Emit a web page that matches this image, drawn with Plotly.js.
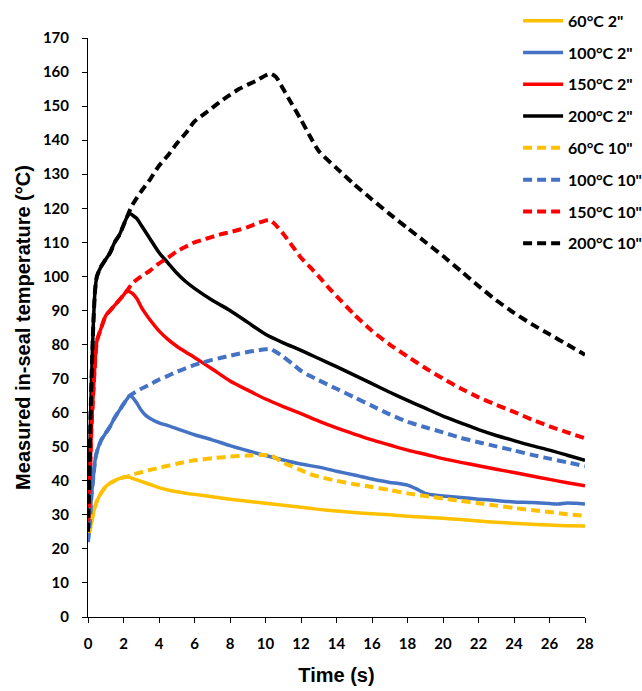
<!DOCTYPE html>
<html>
<head>
<meta charset="utf-8">
<script src="https://cdn.plot.ly/plotly-3.0.1.min.js"></script>
<style>
  html, body { margin: 0; padding: 0; background: #fff; }
  #chart { width: 642px; height: 691px; }
</style>
</head>
<body>
<div id="chart"></div>
<script>
// ---- Data ----
const seriesNames = ['60°C 2"', '100°C 2"', '150°C 2"', '200°C 2"', '60°C 10"', '100°C 10"', '150°C 10"', '200°C 10"'];

const t_60_2 = [0,0.1,0.2,0.3,0.4,0.5,0.75,1,1.25,1.5,1.75,2,2.2,2.5,3,3.5,4,4.5,5,6,7,8,9,10,11,12,13,14,15,16,17,18,19,20,21,22,23,24,25,26,27,28];
const v_60_2 = [24,25.5,28,30.5,32.5,34,36.5,38.3,39.3,40,40.6,41,41.2,40.7,39.8,38.9,38,37.3,36.8,36,35.3,34.6,34,33.4,32.8,32.2,31.6,31.1,30.7,30.3,30,29.6,29.3,29,28.6,28.2,27.8,27.5,27.2,27,26.8,26.7];

const t_100_2 = [0,0.05,0.1,0.15,0.2,0.3,0.4,0.5,0.75,1,1.25,1.5,1.75,2,2.2,2.35,2.5,2.75,3,3.25,3.5,4,4.5,5,6,7,8,9,10,11,12,13,14,15,16,17,17.5,18,18.5,19,19.5,20,21,22,23,24,25,26,26.5,27,27.5,28];
const v_100_2 = [22,25,28,32,36,41,46,48.5,52,54,56,58.5,60.5,62.5,64,65,64.5,62.8,60.7,59.2,58.3,57,56.2,55.3,53.5,52,50.3,48.8,47.4,46.1,44.9,44,42.8,41.7,40.5,39.5,39.2,38.7,37.6,36.3,35.8,35.5,35.1,34.6,34.2,33.8,33.6,33.3,33.2,33.5,33.4,33.2];

const t_150_2 = [0,0.05,0.1,0.15,0.2,0.3,0.4,0.5,0.75,1,1.25,1.5,1.75,2,2.2,2.35,2.5,2.75,3,3.25,3.5,4,4.5,5,5.5,6,7,8,9,10,11,12,13,14,15,16,17,18,19,20,21,22,23,24,25,26,27,28];
const v_150_2 = [28,32,40,48,56,66,75,81,85,88.5,90,91.5,93,94.5,95.8,95.5,95,93.5,91,89,87.2,84,81.5,79.5,77.8,76.2,72.8,69.3,66.6,64,61.8,59.7,57.5,55.5,53.7,52,50.5,49,47.8,46.5,45.4,44.4,43.4,42.4,41.4,40.4,39.4,38.5];

const t_200_2 = [0,0.05,0.1,0.15,0.2,0.3,0.4,0.5,0.75,1,1.25,1.5,1.75,2,2.2,2.35,2.5,2.75,3,3.5,4,4.5,5,5.5,6,7,8,9,10,11,12,13,14,15,16,17,18,19,20,21,22,23,24,25,26,27,28];
const v_200_2 = [25,35,48,60,70,86,96,100,103,105,107,110,112,115,117.5,118.5,118,117,115,111,107,104,101,98.5,96.5,93,90,86.5,83,80.5,78.3,75.9,73.5,71,68.5,66,63.6,61.3,59,57,55,53.3,51.8,50.3,49,47.5,46];

const t_60_10 = [0,0.1,0.2,0.3,0.4,0.5,0.75,1,1.25,1.5,1.75,2,2.2,2.5,3,3.5,4,4.5,5,6,7,8,9,10,10.3,10.6,11,11.5,12,12.5,13,14,15,16,17,18,19,20,21,22,23,24,25,26,27,28];
const v_60_10 = [24,25.5,28,30.5,32.5,34,36.5,38.3,39.3,40,40.6,41,41.2,41.8,42.5,43.2,43.8,44.4,45,46,46.6,47.1,47.4,47.6,47.5,46.6,45.3,44.2,43.1,42,41.2,40,39,38.2,37.3,36.3,35.5,34.8,34.1,33.4,32.7,32,31.4,30.8,30.2,29.7];

const t_100_10 = [0,0.05,0.1,0.15,0.2,0.3,0.4,0.5,0.75,1,1.25,1.5,1.75,2,2.2,2.35,2.5,3,3.5,4,4.5,5,5.5,6,6.5,7,7.5,8,8.5,9,9.5,10,10.3,10.6,11,11.5,12,12.5,13,14,15,16,17,18,19,20,21,22,23,24,25,26,27,28];
const v_100_10 = [22,25,28,32,36,41,46,48.5,52,54,56,58.5,60.5,62.5,64,65,65.5,67,68.3,69.7,70.8,72,73,74,74.8,75.5,76.1,76.7,77.3,77.8,78.2,78.6,78.7,77.8,76.4,74.4,72.3,70.8,69.5,67,64.5,62,59.5,57.3,55.7,54.2,52.6,51.3,50.1,48.9,47.6,46.5,45.4,44.3];

const t_150_10 = [0,0.05,0.1,0.15,0.2,0.3,0.4,0.5,0.75,1,1.25,1.5,1.75,2,2.2,2.5,3,3.5,4,4.5,5,5.5,6,6.5,7,7.5,8,8.5,9,9.5,10,10.2,10.5,11,11.5,12,12.5,13,13.5,14,15,16,17,18,19,20,21,22,23,24,25,26,27,28];
const v_150_10 = [28,32,40,48,56,66,75,81,85,88.5,90,91.5,93,94.5,95.8,98,100,101.7,103.8,105.5,107.3,108.7,110,110.8,111.6,112.4,113,113.7,114.5,115.5,116.4,116.6,115.5,112.5,109,105.5,102.8,100,97,94.2,88.8,84,80,76.5,73.1,70,67.1,64.5,62.3,60.2,58,56,54.2,52.5];

const t_200_10 = [0,0.05,0.1,0.15,0.2,0.3,0.4,0.5,0.75,1,1.25,1.5,1.75,2,2.2,2.5,3,3.5,4,4.5,5,5.5,6,6.5,7,7.5,8,8.5,9,9.5,10,10.3,10.6,11,11.5,12,12.5,13,14,15,16,17,18,19,20,21,22,23,24,25,26,27,28];
const v_200_10 = [25,35,48,60,70,86,96,100,103,105,107,110,112,115,117.5,121,125,128.5,132.5,135.5,139,142,145.5,147.5,149.5,151.5,153.3,155,156.3,157.5,159,159.5,158.5,155,150.5,146,141.2,136.8,131.8,127,122.6,118.3,114.2,110.1,106,101.6,97.2,93,89.3,86,83,80,77];

const xTicks = [0,2,4,6,8,10,12,14,16,18,20,22,24,26,28];
const yTicks = [0,10,20,30,40,50,60,70,80,90,100,110,120,130,140,150,160,170];

// ---- Styling ----
const colors = ['#FFC000', '#4472C4', '#FF0000', '#000000'];
const xs = [t_60_2, t_100_2, t_150_2, t_200_2, t_60_10, t_100_10, t_150_10, t_200_10];
const ys = [v_60_2, v_100_2, v_150_2, v_200_2, v_60_10, v_100_10, v_150_10, v_200_10];

const traces = seriesNames.map((name, i) => ({
  type: 'scatter',
  mode: 'lines',
  name: name,
  legendgroup: 'g' + i,
  x: xs[i],
  y: ys[i],
  line: {
    color: colors[i % 4],
    width: i < 4 ? 3.5 : 4,
    dash: i < 4 ? 'solid' : '9px,5px',
    shape: 'spline',
    smoothing: 0.6
  },
  hoverinfo: 'x+y+name'
}));

const tickFont = { family: 'Lato, "Open Sans", sans-serif', size: 15, color: '#000', weight: 'bold' };
const titleFont = { family: '"Liberation Sans", Arial, sans-serif', size: 20, color: '#000', weight: 'bold' };

const layout = {
  width: 642,
  height: 691,
  margin: { l: 88, r: 57, t: 38, b: 74, autoexpand: false },
  paper_bgcolor: '#fff',
  plot_bgcolor: '#fff',
  showlegend: true,
  legend: {
    xref: 'container', yref: 'container',
    x: 0.807, xanchor: 'left',
    y: 0.9946, yanchor: 'top',
    traceorder: 'grouped',
    tracegroupgap: 8,
    bgcolor: 'rgba(0,0,0,0)',
    itemwidth: 40,
    font: { family: 'Lato, "Open Sans", sans-serif', size: 16, color: '#000', weight: 'bold' }
  },
  xaxis: {
    range: [0, 28],
    tickvals: xTicks,
    ticktext: xTicks.map(String),
    showgrid: false,
    zeroline: false,
    showline: true,
    linecolor: '#000',
    linewidth: 1,
    ticks: 'outside',
    ticklen: 5,
    tickcolor: '#000',
    tickfont: tickFont,
    ticklabelstandoff: 8,
    title: { text: 'Time (s)', font: titleFont, standoff: 16 }
  },
  yaxis: {
    range: [0, 170],
    tickvals: yTicks,
    ticktext: yTicks.map(String),
    showgrid: false,
    zeroline: false,
    showline: true,
    linecolor: '#000',
    linewidth: 1,
    ticks: 'outside',
    ticklen: 5,
    tickcolor: '#000',
    tickfont: tickFont,
    ticklabelstandoff: 10,
    title: { text: 'Measured in-seal temperature (°C)', font: titleFont, standoff: 6 }
  }
};

Plotly.newPlot('chart', traces, layout, { displayModeBar: false, staticPlot: true });
</script>
</body>
</html>
